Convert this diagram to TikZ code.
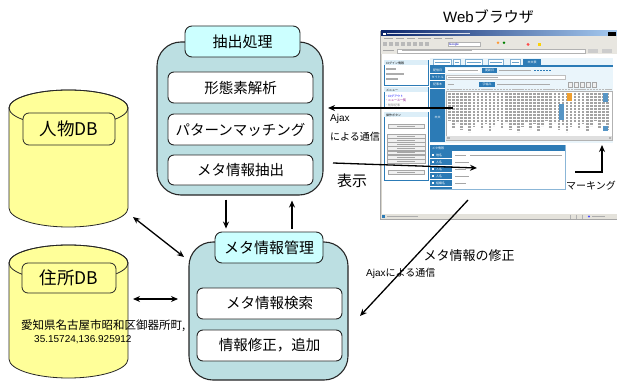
\documentclass[tikz,border=0pt]{standalone}
\usepackage{fontspec}
\setmainfont{Noto Sans CJK JP}
\newfontfamily\latinfont{Liberation Sans}
\usetikzlibrary{arrows.meta,calc}

\definecolor{panelteal}{HTML}{BCDFE2}
\definecolor{headcyan}{HTML}{CCFFFF}
\definecolor{dbyellow}{HTML}{FFFF99}
\definecolor{edge}{HTML}{262626}
\definecolor{wblue}{HTML}{2C7BB6}
\definecolor{wlight}{HTML}{DCEEF8}
\definecolor{wgray}{HTML}{D8D5CC}
\definecolor{titlenavy}{HTML}{0A246A}
\definecolor{titlesky}{HTML}{A6CAF0}
\definecolor{markorange}{HTML}{F0A030}

% database drum: #1 left x, #2 top ellipse centre y, #3 bottom ellipse centre y
\newcommand\dbdrum[3]{%
  \filldraw[fill=dbyellow,draw=edge,line width=0.8pt]
    (#1,#2) -- (#1,#3) arc[start angle=180,end angle=360,x radius=59.5pt,y radius=19pt]
    -- (#1+119,#2) arc[start angle=0,end angle=180,x radius=59.5pt,y radius=18pt] -- cycle;
  \draw[edge,line width=0.8pt] (#1+59.5,#2) ellipse[x radius=59.5pt,y radius=18pt];
}

\begin{document}
\begin{tikzpicture}[x=1pt,y=-1pt,
  bigbox/.style={draw=edge,line width=1.1pt,fill=panelteal,rounded corners=24pt,inner sep=0pt},
  headbox/.style={draw=edge,line width=0.9pt,fill=headcyan,rounded corners=7pt,inner sep=0pt,
    font=\fontsize{15}{16}\selectfont},
  itembox/.style={draw=edge,line width=0.9pt,fill=white,rounded corners=6pt,inner sep=0pt,
    font=\fontsize{14.5}{16}\selectfont},
  dblabel/.style={draw=edge,line width=0.8pt,fill=dbyellow,rounded corners=6pt,inner sep=0pt,
    font=\fontsize{17.5}{19}\selectfont},
  link/.style={line width=1.3pt,-{Stealth[length=7pt,width=6pt]}},
  duallink/.style={line width=1.3pt,{Stealth[length=7pt,width=6pt]}-{Stealth[length=7pt,width=6pt]}},
  note/.style={inner sep=0pt,anchor=west},
  tiny/.style={inner sep=0pt,font=\fontsize{3}{3.4}\selectfont},
  fake/.style={line width=1.1pt,gray!65},
  wbtn/.style={draw=gray!70,line width=0.3pt,fill=gray!12},
]
\useasboundingbox (0,0) rectangle (617,382);
\fill[white] (0,0) rectangle (617,382);

% ---------------- databases ----------------
\dbdrum{9}{108}{208}
\node[inner sep=0pt,minimum width=119pt,minimum height=137pt] (persondb) at (68.5,158.5) {};
\node[dblabel,minimum width=92pt,minimum height=32pt] (personlbl) at (69,129) {人物DB};

\dbdrum{9}{263}{359}
\node[inner sep=0pt,minimum width=119pt,minimum height=137pt] (addrdb) at (68.5,311.5) {};
\node[dblabel,minimum width=94pt,minimum height=30pt] (addrlbl) at (69,278) {住所DB};
\node[note,font=\fontsize{11.5}{13}\selectfont] (addr1) at (21,326) {愛知県名古屋市昭和区御器所町,};
\node[note,font=\latinfont\fontsize{10}{12}\selectfont] (addr2) at (34,339.5) {35.15724,136.925912};

% ---------------- extraction block ----------------
\node[bigbox,minimum width=166pt,minimum height=153pt] (proc) at (240,118.5) {};
\node[headbox,minimum width=115pt,minimum height=31pt] (prochead) at (242.5,41.5) {抽出処理};
\node[itembox,minimum width=145pt,minimum height=31pt] (morph) at (240.5,87.5) {形態素解析};
\node[itembox,minimum width=145pt,minimum height=31pt] (pattern) at (240.5,129.5) {パターンマッチング};
\node[itembox,minimum width=145pt,minimum height=30pt] (extract) at (240.5,170) {メタ情報抽出};

% ---------------- metadata management block ----------------
\node[bigbox,minimum width=159pt,minimum height=138pt] (meta) at (268.5,311) {};
\node[headbox,minimum width=108pt,minimum height=31pt] (metahead) at (269,247.5) {メタ情報管理};
\node[itembox,minimum width=145pt,minimum height=31pt] (search) at (269.5,303.5) {メタ情報検索};
\node[itembox,minimum width=145pt,minimum height=31pt] (modify) at (269.5,345.5) {情報修正，追加};

% ---------------- browser window ----------------
\node[inner sep=0pt,font=\fontsize{15}{16}\selectfont] (webtitle) at (488.5,17) {{\latinfont Web}ブラウザ};

\fill[wgray] (380,31) rectangle (617,219);
\fill[white] (381.5,54.5) rectangle (617,214);
\shade[left color=titlenavy,right color=titlesky] (381,31) rectangle (617,36.2);
\fill[white] (383,32.8) rectangle (385.5,34.6);
\draw[line width=1pt,white!85!titlenavy] (387,33.7) -- (470,33.7);
\fill[black] (608,32) rectangle (616,36);
% menu, tool and address bars
\fill[wgray!60] (381,36.2) rectangle (617,41);
\foreach \a/\b in {384/393,396/404,407/415,418/431,434/442,445/453}
  \draw[line width=0.9pt,gray!70] (\a,38.6) -- (\b,38.6);
\fill[wgray!60] (381,41.3) rectangle (617,47.3);
\foreach \a in {383,389,395,401,407,413,419,425}
  \fill[gray!55] (\a,42.5) rectangle ++(3.5,3.6);
\fill[white] (448,42.6) rectangle (480,46.2);
\draw[gray!60,line width=0.3pt] (448,42.6) rectangle (480,46.2);
\node[tiny,anchor=west] at (449,44.4) {\latinfont\color{blue!70!black}Google};
\fill[orange!80] (498,42.8) circle[radius=1.4pt];
\fill[green!50!black] (504,42.8) circle[radius=1.4pt];
\fill[red!70] (528,44.4) circle[radius=1.6pt];
\fill[yellow!70!orange] (538,42.8) rectangle ++(3,3);
\fill[wgray!60] (381,47.5) rectangle (617,54);
\draw[line width=0.9pt,gray!70] (383,50.7) -- (394,50.7);
\fill[white] (397,48.7) rectangle (585,52.8);
\draw[gray!60,line width=0.3pt] (397,48.7) rectangle (585,52.8);
\draw[line width=0.9pt,gray!60] (402,50.7) -- (472,50.7);
\fill[gray!40] (588,48.8) rectangle ++(10,3.8);
\fill[gray!40] (602,48.8) rectangle ++(10,3.8);

% left column panels
\draw[wblue,line width=0.6pt,fill=white] (384,60) rectangle (428,85);
\fill[wlight] (384.3,60.3) rectangle (427.7,65.5);
\node[tiny,anchor=west] at (386,63) {ログイン情報};
\draw[fake] (386,69) -- (396,69);
\draw[fake] (386,74) -- (404,74);
\draw[fake] (386,79) -- (398,79);

\draw[wblue,line width=0.6pt,fill=white] (384,87) rectangle (428,107);
\fill[wlight] (384.3,87.3) rectangle (427.7,92.5);
\node[tiny,anchor=west] at (386,90) {メニュー};
\node[tiny,anchor=west,text=blue] at (385,96) {・ログアウト};
\node[tiny,anchor=west,text=violet] at (385,100.5) {・ニュース一覧};
\node[tiny,anchor=west,text=gray] at (385,105) {・削除記事};

\draw[wblue,line width=0.6pt,fill=white] (384,112) rectangle (428,180);
\fill[wlight] (384.3,112.3) rectangle (427.7,117.5);
\node[tiny,anchor=west] at (386,115) {操作ボタン};
\draw[wbtn] (388,124) rectangle (424,128.2);
\foreach \y in {134,138.2,142.4,146.6,150.8,155,159.2}
  \draw[wbtn] (387,\y) rectangle (425,\y+3.8);
\draw[wbtn] (388,170) rectangle (424,174.2);
\foreach \y in {126.1,136,140.2,144.4,148.6,152.8,157,161.2,172.1}
  \draw[line width=0.8pt,gray!70] (397,\y) -- (415,\y);

% article panel
\fill[wlight!60] (430,58) rectangle (613,143);
\foreach \a/\b in {433/451,453/460,465/482,488/503,510/520}{
  \draw[wblue!60,line width=0.3pt,fill=white] (\a,59.5) rectangle (\b,65.5);
  \draw[line width=0.9pt,wblue!70] (\a+1.5,62.5) -- (\b-1.5,62.5);
}
\fill[wblue] (523,59.5) rectangle (541,65.5);
\node[tiny,text=white] at (532,62.5) {本文表};
\fill[wblue] (430,65.5) rectangle (613,67);
\fill[wblue] (430,67) rectangle (445,142);
\node[tiny,text=white] at (437.5,70.3) {配信日};
\node[tiny,text=white] at (437.5,77.3) {タイトル};
\node[tiny,text=white] at (437.5,84.8) {記事本};
\node[tiny,text=white] at (437.5,117) {本文};
\foreach \y in {73.8,80.8,88.5} \draw[white,line width=0.6pt] (430,\y) -- (445,\y);
% row: dates
\fill[white] (446,68) rectangle (480,72.6);
\draw[line width=0.9pt,gray!65] (447.5,70.3) -- (478,70.3);
\fill[wblue] (482,67.6) rectangle (497,73);
\node[tiny,text=white] at (489.5,70.3) {更新日};
\draw[line width=0.9pt,gray!65] (499,70.3) -- (531,70.3);
\foreach \a in {534,537,540,543,546,549} \fill[wblue] (\a,69.6) rectangle ++(1.6,1.4);
% row: title
\fill[white] (446,75) rectangle (565,79.6);
\draw[gray!50,line width=0.3pt] (446,75) rectangle (565,79.6);
\draw[line width=0.9pt,gray!65] (447.5,77.3) -- (498,77.3);
% row: controls
\draw[line width=0.9pt,gray!65] (447.5,84.8) -- (454,84.8);
\fill[wblue] (479,82) rectangle (495,87.3);
\node[tiny,text=white] at (487,84.7) {字幅み};
\draw[line width=0.9pt,gray!65] (497,84.8) -- (550,84.8);
\foreach \a in {568,574,580,586,592}
  \draw[wbtn] (\a,82.3) rectangle ++(4.5,4.6);
% body text area: vertical columns of small characters
\fill[white] (446,90.8) rectangle (612,140);
\draw[gray!60,line width=0.3pt] (446,90.8) rectangle (612,140);
\draw[line width=1pt,gray!55,dash pattern=on 2.4pt off 0.7pt] (447,89.4) -- (612,89.4);
\foreach \i in {0,...,39}{
  \pgfmathsetmacro\len{28+mod(\i*7,12)}
  \draw[line width=2.6pt,gray!72,dash pattern=on 2.4pt off 0.6pt]
    (449.5+\i*4.05,93) -- ++(0,\len);
}
\fill[markorange] (566.5,93) rectangle (571.5,101);
\fill[wblue!80] (558.5,104) rectangle (563.5,120);
\fill[wblue!80] (603,93) rectangle (608,102);
\fill[wblue!80] (603,126) rectangle (608,131);
\fill[gray!25] (446.3,136.5) rectangle (611.7,139.7);
\fill[gray!60] (447,137) rectangle ++(2.5,2.2);
\fill[gray!60] (608.5,137) rectangle ++(2.5,2.2);

% metadata panel
\draw[wblue!55,line width=0.6pt,fill=white] (430,145) rectangle (565,189);
\fill[wblue] (430,145) rectangle (565,151);
\node[tiny,text=white,anchor=west] at (432,148) {メタ情報};
\fill[wblue] (430,151) rectangle (452,189);
\foreach \y/\lab in {155/地名,162/人名,169/人名,176/人名,183/組織名}{
  \fill[white] (432,\y-1.2) rectangle ++(2.4,2.4);
  \node[tiny,text=white,anchor=west] at (436,\y) {\lab};
  \draw[white,line width=0.4pt] (430,\y+3.5) -- (452,\y+3.5);
}
\draw[line width=1pt,gray!70] (455,155) -- (466,155);
\draw[line width=1pt,gray!70] (470,155) -- (562,155);
\draw[line width=1pt,gray!70] (455,162) -- (469,162);
\draw[line width=1pt,gray!70] (455,169) -- (466,169);
\draw[line width=1pt,gray!70] (455,176) -- (469,176);
\draw[line width=1pt,gray!70] (455,183) -- (466,183);

% status bar
\fill[wgray!70] (381,214) rectangle (617,219);
\fill[wblue] (382,215) rectangle ++(3,3);
\draw[line width=0.9pt,gray!65] (387,216.5) -- (418,216.5);
\foreach \a in {570,576,582} \draw[gray!60,line width=0.3pt] (\a,214.5) -- (\a,218.5);
\fill[blue!70] (589,216.5) circle[radius=1.2pt];
\draw[line width=0.9pt,gray!65] (592,216.5) -- (605,216.5);
\draw[gray!70,line width=0.5pt] (380.3,31) -- (380.3,219.3) -- (617,219.3);

% ---------------- connectors ----------------
\coordinate (ajaxsrc) at (453,108);
\coordinate (ajaxtip) at (328,108);
\draw[link] (ajaxsrc) -- (ajaxtip);
\node[note,font=\latinfont\fontsize{10}{12}\selectfont] (ajaxa) at (330,119) {Ajax};
\node[note,font=\fontsize{10}{12}\selectfont] (ajaxb) at (330,137) {による通信};

\coordinate (showsrc) at (333,163);
\coordinate (showtip) at (477,168);
\draw[link] (showsrc) -- (showtip);
\node[note,font=\fontsize{15}{16}\selectfont] (showlbl) at (337,181) {表示};

\coordinate (markfoot) at (575,172);
\coordinate (marktip) at (602,145);
\draw[link] (markfoot) -- (marktip |- markfoot) -- (marktip);
\node[note,font=\fontsize{10}{12}\selectfont] (marklbl) at (566,185.5) {マーキング};

\coordinate (editsrc) at (468,200);
\coordinate (edittip) at (360,316);
\draw[link] (editsrc) -- (edittip);
\node[inner sep=0pt,font=\fontsize{13}{15}\selectfont] (editlbl) at (469,256) {メタ情報の修正};
\node[note,font=\fontsize{10}{12}\selectfont] (editsub) at (366,273) {{\latinfont Ajax}による通信};

\draw[link] ($(proc.south)+(-14,4)$) -- ($(metahead.north)+(-43,-3)$);
\draw[link] ($(metahead.north)+(23,-3)$) -- ($(proc.south)+(52,5)$);

\coordinate (pdbport) at (133,217);
\coordinate (metaport) at (184,257);
\draw[duallink] (pdbport) -- (metaport);
\coordinate (adbport) at (133,299);
\coordinate (metaport2) at (178,299);
\draw[duallink] (adbport) -- (metaport2);
\end{tikzpicture}
\end{document}
